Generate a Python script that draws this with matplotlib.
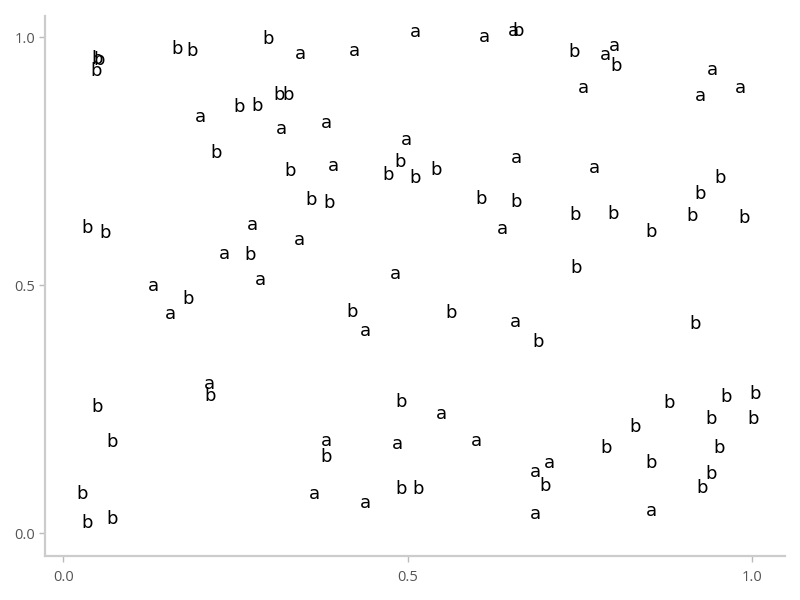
import matplotlib
matplotlib.use("Agg")
import matplotlib.pyplot as plt

labels = list("bbbbbbabbbbabbbbaabaabaabbbbbb"
              "aaaaabaaaabbbbbbbbaaa"
              "baabaaaaabbbbbbbb"
              "bababbaabaaaabbaaba"
              "bbbbbbbbbbbba")
xs = [0.041, 0.044, 0.039, 0.157, 0.179, 0.288, 0.191, 0.246, 0.273, 0.304,
      0.318, 0.308, 0.213, 0.320, 0.026, 0.052, 0.266, 0.225, 0.262, 0.278,
      0.123, 0.172, 0.147, 0.204, 0.204, 0.041, 0.063, 0.019, 0.026, 0.063,
      0.336, 0.414, 0.503, 0.603, 0.645, 0.652, 0.374, 0.489, 0.649, 0.384,
      0.463, 0.480, 0.502, 0.533, 0.351, 0.377, 0.598, 0.648, 0.629, 0.335,
      0.474,
      0.733, 0.779, 0.791, 0.794, 0.747, 0.934, 0.917, 0.975, 0.763, 0.944,
      0.915, 0.734, 0.790, 0.904, 0.979, 0.844, 0.735,
      0.410, 0.430, 0.554, 0.648, 0.681, 0.482, 0.540, 0.373, 0.373, 0.476,
      0.592, 0.356, 0.430, 0.482, 0.506, 0.677, 0.697, 0.690, 0.677,
      0.908, 0.954, 0.995, 0.870, 0.931, 0.993, 0.821, 0.779, 0.943, 0.844,
      0.932, 0.918, 0.846]
ys = [0.946, 0.944, 0.923, 0.966, 0.962, 0.987, 0.830, 0.850, 0.852, 0.874,
      0.874, 0.805, 0.756, 0.720, 0.606, 0.595, 0.611, 0.554, 0.551, 0.501,
      0.489, 0.462, 0.432, 0.292, 0.267, 0.244, 0.175, 0.069, 0.010, 0.019,
      0.956, 0.962, 1.000, 0.991, 1.003, 1.003, 0.817, 0.783, 0.747, 0.730,
      0.712, 0.738, 0.706, 0.723, 0.663, 0.656, 0.664, 0.658, 0.603, 0.581,
      0.512,
      0.961, 0.954, 0.972, 0.933, 0.889, 0.924, 0.872, 0.889, 0.726, 0.707,
      0.675, 0.632, 0.634, 0.630, 0.625, 0.598, 0.524,
      0.437, 0.398, 0.435, 0.417, 0.376, 0.255, 0.230, 0.177, 0.144, 0.170,
      0.177, 0.069, 0.052, 0.079, 0.079, 0.113, 0.132, 0.086, 0.029,
      0.413, 0.265, 0.270, 0.252, 0.220, 0.220, 0.205, 0.162, 0.162, 0.132,
      0.109, 0.081, 0.035]
ticks = [0.0, 0.5, 1.0]
tick_labels = ["0.0", "0.5", "1.0"]

fig = plt.figure(figsize=(8, 6), dpi=100)
ax = fig.add_axes([45/800, 1 - 556/600, 740/800, 540/600])
for lab, x, y in zip(labels, xs, ys):
    ax.text(x, y, lab, fontsize=13, family="DejaVu Sans", color="black",
            ha="left", va="baseline")

ax.set_xlim(-0.0268, 1.0472)
ax.set_ylim(-0.0458, 1.0433)
for s in ["top", "right"]:
    ax.spines[s].set_visible(False)
for s in ["left", "bottom"]:
    ax.spines[s].set_color("#cccccc")
    ax.spines[s].set_linewidth(1.6)
ax.set_xticks(ticks)
ax.set_xticklabels(tick_labels)
ax.set_yticks(ticks)
ax.set_yticklabels(tick_labels)
ax.tick_params(axis="both", colors="#bbbbbb", length=4, width=1,
               labelcolor="#555555", labelsize=10.5)
for t in ax.get_xticklabels() + ax.get_yticklabels():
    t.set_family("Open Sans")
ax.tick_params(axis="x", pad=6)
ax.tick_params(axis="y", pad=3)
fig.savefig("out.png", dpi=100)
